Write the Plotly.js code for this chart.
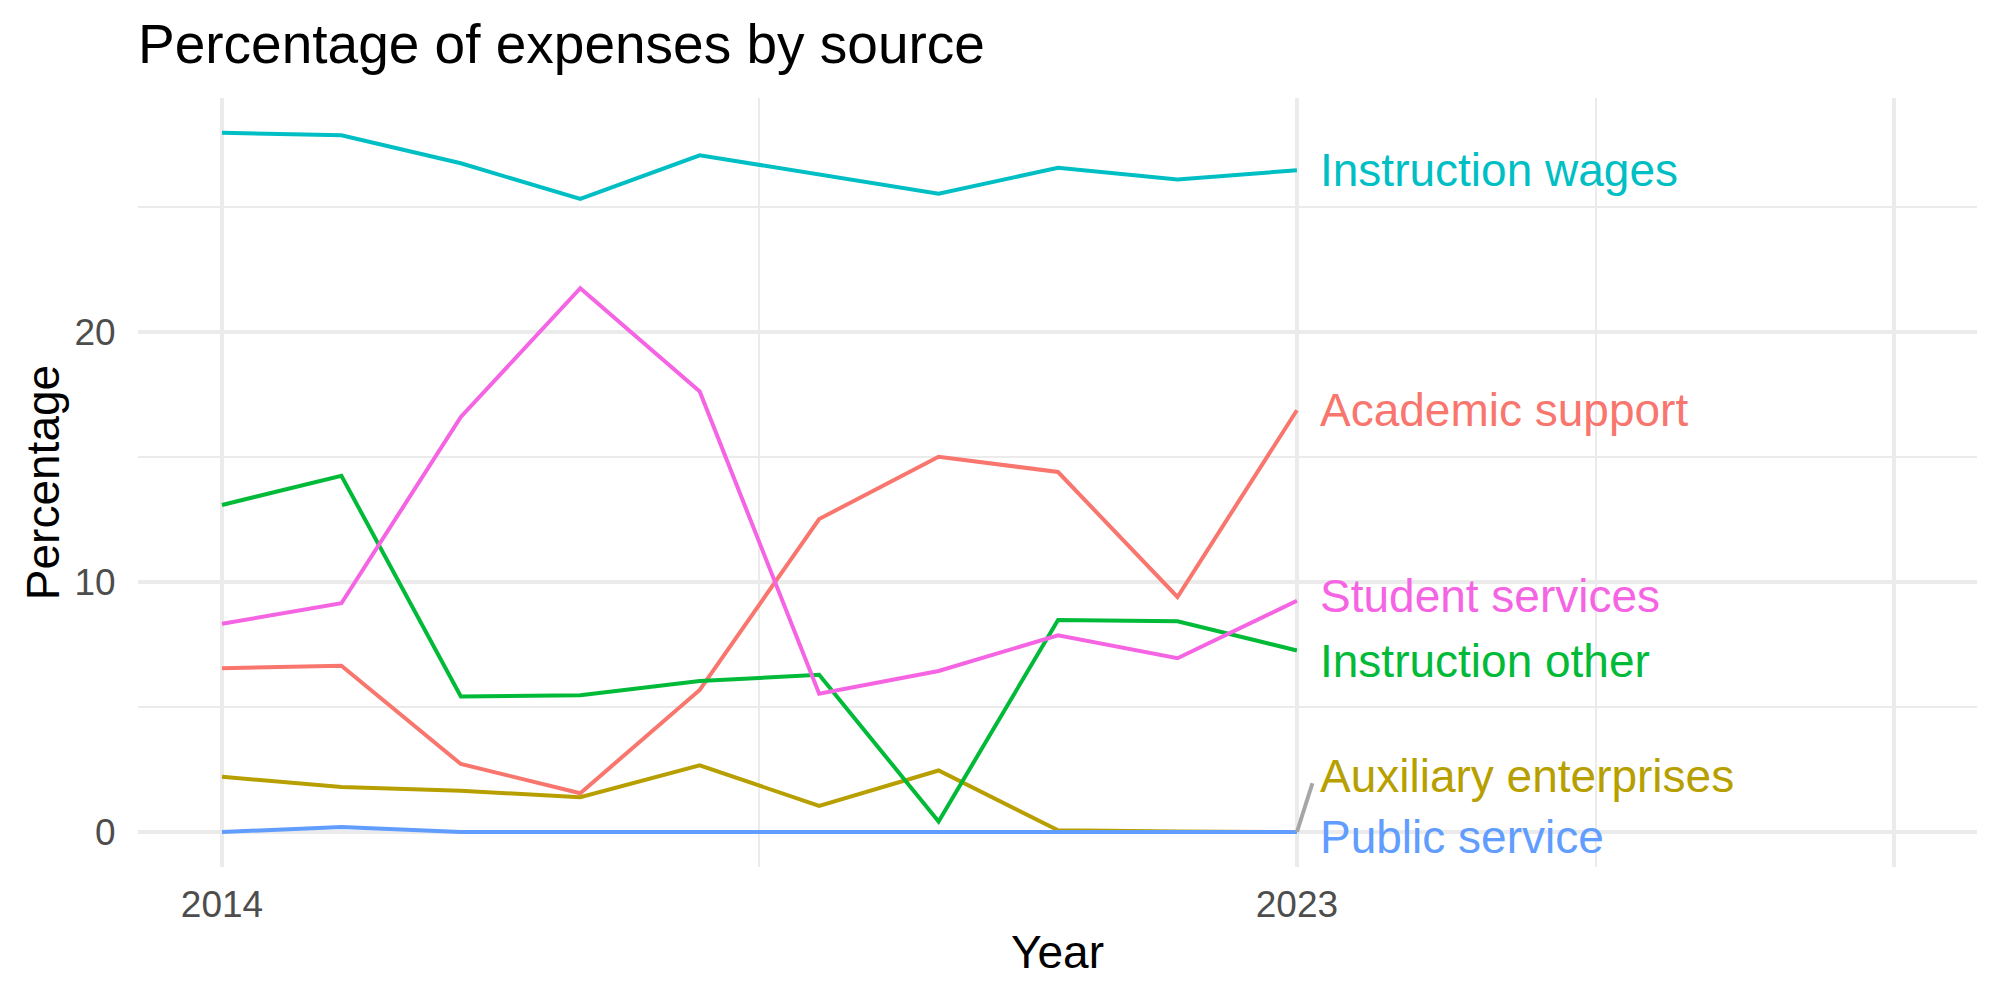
<!DOCTYPE html>
<html>
<head>
<meta charset="utf-8">
<script src="https://cdn.plot.ly/plotly-3.0.1.min.js"></script>
<style>html,body{margin:0;padding:0;background:#fff;}#chart{width:2000px;height:1000px;}</style>
</head>
<body>
<div id="chart"></div>
<script>
// ---- data ----
const years = [2014, 2015, 2016, 2017, 2018, 2019, 2020, 2021, 2022, 2023];
const seriesNames = ["Academic support", "Auxiliary enterprises", "Instruction other", "Instruction wages", "Public service", "Student services"];
const academicSupport      = [6.55, 6.65, 2.72, 1.55, 5.68, 12.52, 15.01, 14.40, 9.40, 16.87];
const auxiliaryEnterprises = [2.21, 1.80, 1.65, 1.39, 2.67, 1.04, 2.46, 0.07, 0.02, 0.00];
const instructionOther     = [13.08, 14.25, 5.42, 5.47, 6.04, 6.29, 0.42, 8.48, 8.43, 7.26];
const instructionWages     = [27.97, 27.87, 26.75, 25.32, 27.07, 26.29, 25.53, 26.57, 26.10, 26.47];
const publicService        = [0.00, 0.20, 0.00, 0.00, 0.00, 0.00, 0.00, 0.00, 0.00, 0.00];
const studentServices      = [8.33, 9.15, 16.60, 21.75, 17.62, 5.53, 6.44, 7.87, 6.95, 9.25];
const xTickVals = [2014, 2023, 2028];
const xTickText = ["2014", "2023", ""];

// ---- styling / layout ----
const values = [academicSupport, auxiliaryEnterprises, instructionOther, instructionWages, publicService, studentServices];
const colors = ["#F8766D", "#B79F00", "#00BA38", "#00BFC4", "#619CFF", "#F564E3"];
// label vertical nudges (repel result) in data units relative to last value
const labelNudge = [0.0, 2.25, -0.4, 0.0, -0.2, 0.2];
const labelX = 2023.18;
const FONT = "Liberation Sans, Arial, Helvetica, sans-serif";

const traces = seriesNames.map((name, i) => ({
  type: "scatter", mode: "lines", name: name,
  x: years, y: values[i],
  line: {color: colors[i], width: 4},
  showlegend: false, hoverinfo: "x+y+name"
}));

const last = years.length - 1;
const annotations = seriesNames.map((name, i) => ({
  x: labelX, y: values[i][last] + labelNudge[i],
  xref: "x", yref: "y", xanchor: "left", yanchor: "middle",
  text: name, showarrow: false,
  font: {family: FONT, size: 46, color: colors[i]}
}));

// connector segment for the repelled auxiliary label
const shapes = [{
  type: "line", xref: "x", yref: "y",
  x0: years[last], y0: auxiliaryEnterprises[last],
  x1: labelX - 0.05, y1: auxiliaryEnterprises[last] + labelNudge[1] - 0.3,
  line: {color: "#A6A6A6", width: 4}, layer: "above"
}];

const layout = {
  width: 2000, height: 1000,
  paper_bgcolor: "#ffffff", plot_bgcolor: "#ffffff",
  margin: {l: 138, r: 23, t: 98, b: 133},
  font: {family: FONT, color: "#000"},
  title: {
    text: "Percentage of expenses by source",
    font: {family: FONT, size: 55, color: "#000"},
    x: 0.069, xref: "container", xanchor: "left",
    y: 0.956, yref: "container", yanchor: "middle"
  },
  xaxis: {
    range: [2013.297, 2028.694],
    tickmode: "array", tickvals: xTickVals, ticktext: xTickText,
    showgrid: true, gridcolor: "#EBEBEB", gridwidth: 4,
    minor: {tickmode: "array", tickvals: [2018.5, 2025.5], showgrid: true, gridcolor: "#EBEBEB", gridwidth: 2, ticks: ""},
    zeroline: false, showline: false,
    ticks: "outside", ticklen: 5, tickcolor: "rgba(0,0,0,0)",
    tickfont: {family: FONT, size: 37, color: "#4D4D4D"},
    title: {text: "Year", font: {family: FONT, size: 46, color: "#000"}, standoff: 11},
    automargin: false, fixedrange: true
  },
  yaxis: {
    range: [-1.4, 29.36],
    tickmode: "array", tickvals: [0, 10, 20],
    showgrid: true, gridcolor: "#EBEBEB", gridwidth: 4,
    minor: {tickmode: "array", tickvals: [5, 15, 25], showgrid: true, gridcolor: "#EBEBEB", gridwidth: 2, ticks: ""},
    zeroline: false, showline: false,
    ticks: "outside", ticklen: 14, tickcolor: "rgba(0,0,0,0)",
    tickfont: {family: FONT, size: 37, color: "#4D4D4D"},
    title: {text: "Percentage", font: {family: FONT, size: 46, color: "#000"}, standoff: 0},
    automargin: false, fixedrange: true
  },
  annotations: annotations,
  shapes: shapes
};

Plotly.newPlot("chart", traces, layout, {displayModeBar: false, staticPlot: true});
</script>
</body>
</html>
